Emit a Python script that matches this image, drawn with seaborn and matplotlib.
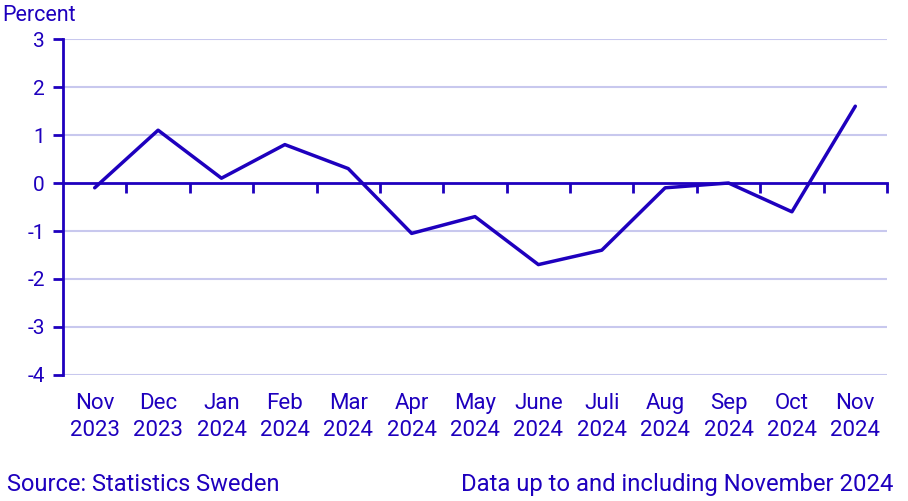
import matplotlib
matplotlib.use("Agg")
import matplotlib.pyplot as plt
import seaborn as sns
import pandas as pd
import numpy as np

months = ["Nov", "Dec", "Jan", "Feb", "Mar", "Apr", "May", "June", "Juli", "Aug", "Sep", "Oct", "Nov"]
years = ["2023", "2023", "2024", "2024", "2024", "2024", "2024", "2024", "2024", "2024", "2024", "2024", "2024"]
values = [-0.1, 1.1, 0.1, 0.8, 0.3, -1.05, -0.7, -1.7, -1.4, -0.1, 0.0, -0.6, 1.6]
yticks = [3, 2, 1, 0, -1, -2, -3, -4]

BLUE = "#1E00BE"
GRID = "#C8C8EE"

sns.set_style("white")
plt.rcParams["font.family"] = ["Roboto", "DejaVu Sans"]

df = pd.DataFrame({"pos": np.arange(len(values)), "value": values,
                   "label": [f"{m}\n{y}" for m, y in zip(months, years)]})

W, H = 908, 501
fig = plt.figure(figsize=(W / 100, H / 100), dpi=100)
ax = fig.add_axes([63 / W, 1 - 375 / H, (887 - 63) / W, (375 - 39) / H])

for v in yticks:
    if v != 0:
        ax.axhline(v, color=GRID, lw=1.5, zorder=0)

sns.lineplot(data=df, x="pos", y="value", ax=ax, color=BLUE, lw=2.5, zorder=3)

n = len(values)
ax.set_xlim(-0.5, n - 0.5)
ax.set_ylim(min(yticks), max(yticks))
ax.set_xlabel("")
ax.set_ylabel("")

# spines
for s in ["top", "right"]:
    ax.spines[s].set_visible(False)
ax.spines["left"].set_color(BLUE)
ax.spines["left"].set_linewidth(2)
ax.spines["bottom"].set_position(("data", 0))
ax.spines["bottom"].set_color(BLUE)
ax.spines["bottom"].set_linewidth(2)
ax.spines["bottom"].set_zorder(2)

ax.set_yticks(yticks)
ax.set_yticklabels([str(v) for v in yticks])
ax.tick_params(axis="y", colors=BLUE, labelcolor=BLUE, length=7, width=2,
               direction="out", labelsize=15, pad=6, left=True)

ax.set_xticks(np.arange(n))
ax.set_xticklabels([])
ax.tick_params(axis="x", which="major", length=0)
ax.set_xticks(np.arange(1, n + 1) - 0.5, minor=True)
ax.tick_params(axis="x", which="minor", colors=BLUE, length=7, width=2, direction="out", bottom=True)

sec = ax.secondary_xaxis(0)
sec.set_xticks(np.arange(n))
sec.set_xticklabels(df["label"])
sec.tick_params(axis="x", length=0, labelsize=16, labelcolor=BLUE, pad=13)
sec.spines["bottom"].set_visible(False)
for t in sec.get_xticklabels():
    t.set_linespacing(1.35)

fig.text(2 / W, 1 - 21 / H, "Percent", color=BLUE, fontsize=15.5, ha="left", va="baseline")
fig.text(7 / W, 1 - 491 / H, "Source: Statistics Sweden", color=BLUE, fontsize=17, ha="left", va="baseline")
fig.text(893 / W, 1 - 491 / H, "Data up to and including November 2024", color=BLUE, fontsize=17.2,
         ha="right", va="baseline")

fig.savefig("out.png", dpi=100)
